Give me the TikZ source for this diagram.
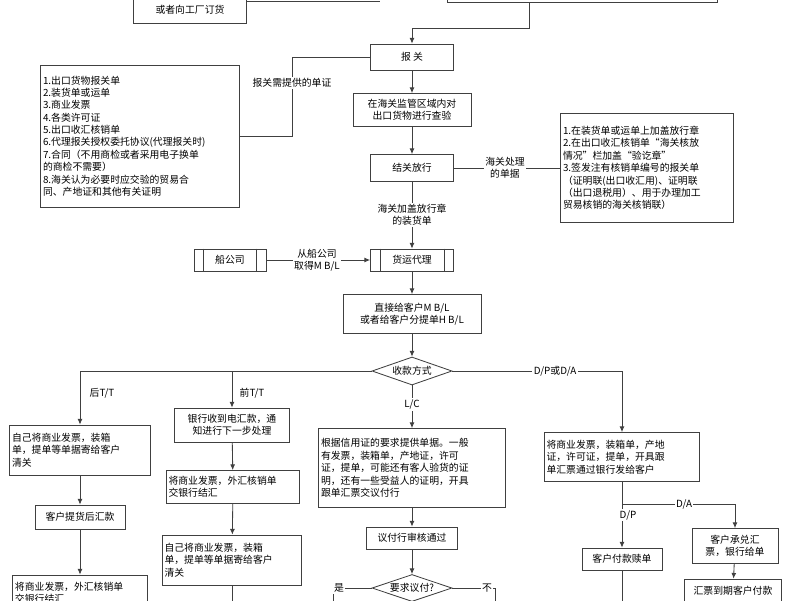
\documentclass[tikz,border=0pt]{standalone}
\usepackage{fontspec}
\setmainfont{Noto Sans CJK SC}
\usetikzlibrary{shapes.geometric,arrows.meta}

\tikzset{
  box/.style={draw=black!75, line width=0.6pt, inner sep=1.5pt, font=\fontsize{7}{8.8}\selectfont},
  lbox/.style={box, align=left},
  cbox/.style={box, align=center},
  dia/.style={draw=black!75, line width=0.6pt, diamond, aspect=3, inner sep=0.5pt, font=\fontsize{7}{8}\selectfont},
  lbl/.style={fill=white, inner sep=1pt, align=center, font=\fontsize{7}{8.8}\selectfont},
  ln/.style={draw=black!75, line width=0.6pt},
  arr/.style={ln, -{Latex[length=4pt,width=3.5pt]}}
}

\begin{document}
\begin{tikzpicture}[x=0.025cm, y=-0.025cm]
  \useasboundingbox (0,0) rectangle (800,600);
  % top, cut off
  \node[cbox, minimum width=113*0.025cm, minimum height=60*0.025cm] (order) at (190,-7) {};
  \node[font=\fontsize{7}{8.8}\selectfont] (ordertxt) at (190,10) {或者向工厂订货};
  \node[cbox, minimum width=270*0.025cm, minimum height=30*0.025cm] (top) at (582,-13) {};
  \draw[ln] (order.east |- 0,1) -- (380,1);
  \node[cbox, minimum width=83*0.025cm, minimum height=26*0.025cm] (bg) at (412,57) {报\ 关};
  \draw[arr] (529,2) -- (529,28) -- (412,28) -- (bg.north);
  % customs
  \node[cbox, minimum width=118*0.025cm, minimum height=33*0.025cm] (cy) at (412,110) {在海关监管区域内对\\出口货物进行查验};
  \node[cbox, minimum width=83*0.025cm, minimum height=27*0.025cm] (fx) at (412,168) {结关放行};
  \node[lbox, text width=194*0.025cm, minimum height=142*0.025cm] (docs) at (140,136) {1.出口货物报关单\\2.装货单或运单\\3.商业发票\\4.各类许可证\\5.出口收汇核销单\\6.代理报关授权委托协议(代理报关时)\\7.合同（不用商检或者采用电子换单\\的商检不需要）\\8.海关认为必要时应交验的贸易合\\同、产地证和其他有关证明};
  \node[lbox, text width=168*0.025cm, minimum height=109*0.025cm] (stamp) at (647,168) {1.在装货单或运单上加盖放行章\\2.在出口收汇核销单“海关核放\\情况”栏加盖“验讫章”\\3.签发注有核销单编号的报关单\\（证明联(出口收汇用)、证明联\\（出口退税用）、用于办理加工\\贸易核销的海关核销联）};
  \draw[arr] (bg) -- (cy);
  \draw[arr] (cy) -- (fx);
  \draw[ln] (docs.east) -- (292,136) -- (292,57) -- (bg.west);
  \node[lbl] at (292,83) {报关需提供的单证};
  \draw[ln] (fx.east) -- (stamp.west);
  \node[lbl] at (505,168) {海关处理\\的单据};
  % shipping
  \node[cbox, minimum width=83*0.025cm, minimum height=22*0.025cm] (hd) at (412,260) {货运代理};
  \node[cbox, minimum width=72*0.025cm, minimum height=22*0.025cm] (ship) at (230,260) {船公司};
  \foreach \n in {hd,ship} {
    \draw[ln] ([xshift=7pt]\n.north west) -- ([xshift=7pt]\n.south west);
    \draw[ln] ([xshift=-7pt]\n.north east) -- ([xshift=-7pt]\n.south east);
  }
  \draw[arr] (fx) -- (hd);
  \node[lbl] at (412,215) {海关加盖放行章\\的装货单};
  \draw[arr] (ship) -- (hd);
  \node[lbl] at (317,260) {从船公司\\取得M B/L};
  \node[cbox, minimum width=138*0.025cm, minimum height=39*0.025cm] (bl) at (412,314) {直接给客户M B/L\\或者给客户分提单H B/L};
  \node[dia, minimum width=80*0.025cm, minimum height=28*0.025cm] (pay) at (412,371) {收款方式};
  \draw[arr] (hd) -- (bl);
  \draw[arr] (bl) -- (pay);
  % post T/T
  \node[lbox, text width=136*0.025cm, minimum height=50*0.025cm] (a1) at (80,450) {自己将商业发票，装箱\\单，提单等单据寄给客户\\清关};
  \node[cbox, minimum width=90*0.025cm, minimum height=24*0.025cm] (a2) at (80,517) {客户提货后汇款};
  \node[lbox, text width=130*0.025cm, minimum height=36*0.025cm] (a3) at (80,593) {将商业发票，外汇核销单\\交银行结汇};
  \draw[arr] (pay.west) -- (80,371) -- (a1.north);
  \node[lbl] at (102,393) {后T/T};
  \draw[arr] (a1) -- (a2);
  \draw[arr] (a2) -- (a3);
  % pre T/T
  \node[cbox, minimum width=115*0.025cm, minimum height=34*0.025cm] (b1) at (232,425) {银行收到电汇款，通\\知进行下一步处理};
  \node[lbox, text width=129*0.025cm, minimum height=33*0.025cm] (b2) at (233,487) {将商业发票，外汇核销单\\交银行结汇};
  \node[lbox, text width=135*0.025cm, minimum height=50*0.025cm] (b3) at (232,560) {自己将商业发票，装箱\\单，提单等单据寄给客户\\清关};
  \draw[arr] (232,371) -- (b1.north);
  \node[lbl] at (252,393) {前T/T};
  \draw[arr] (b1) -- (b2);
  \draw[arr] (b2) -- (b3);
  \draw[ln] (b3.south) -- (232,605);
  % L/C
  \node[lbox, text width=182*0.025cm, minimum height=79*0.025cm] (c1) at (412,468) {根据信用证的要求提供单据。一般\\有发票，装箱单，产地证，许可\\证，提单，可能还有客人验货的证\\明，还有一些受益人的证明，开具\\跟单汇票交议付行};
  \node[cbox, minimum width=91*0.025cm, minimum height=22*0.025cm] (c2) at (412,538) {议付行审核通过};
  \node[dia, minimum width=80*0.025cm, minimum height=27*0.025cm] (ask) at (412,588) {要求议付?};
  \draw[arr] (pay) -- (c1) node[lbl, pos=0.45] {L/C};
  \draw[arr] (c1) -- (c2);
  \draw[arr] (c2) -- (ask);
  \draw[ln] (ask.west) -- (333,588) -- (333,605);
  \node[lbl] at (339,588) {是};
  \draw[ln] (ask.east) -- (495,588) -- (495,605);
  \node[lbl] at (487,588) {不};
  % D/P or D/A
  \node[lbox, text width=151*0.025cm, minimum height=49*0.025cm] (d1) at (622,457) {将商业发票，装箱单，产地\\证，许可证，提单，开具跟\\单汇票通过银行发给客户};
  \draw[arr] (pay.east) -- (622,371) -- (d1.north);
  \node[lbl] at (555,371) {D/P或D/A};
  \node[cbox, minimum width=80*0.025cm, minimum height=22*0.025cm] (d2) at (622,559) {客户付款赎单};
  \node[cbox, minimum width=86*0.025cm, minimum height=35*0.025cm] (d3) at (735,546) {客户承兑汇\\票，银行给单};
  \node[cbox, minimum width=97*0.025cm, minimum height=24*0.025cm] (d4) at (733,591) {汇票到期客户付款};
  \draw[arr] (d1.south) -- (d2.north);
  \node[lbl] at (628,515) {D/P};
  \draw[arr] (622,504) -- (735,504) -- (d3.north);
  \node[lbl] at (684,504) {D/A};
  \draw[arr] (d3) -- (d4);
  \draw[ln] (d2.south) -- (622,605);
\end{tikzpicture}
\end{document}
